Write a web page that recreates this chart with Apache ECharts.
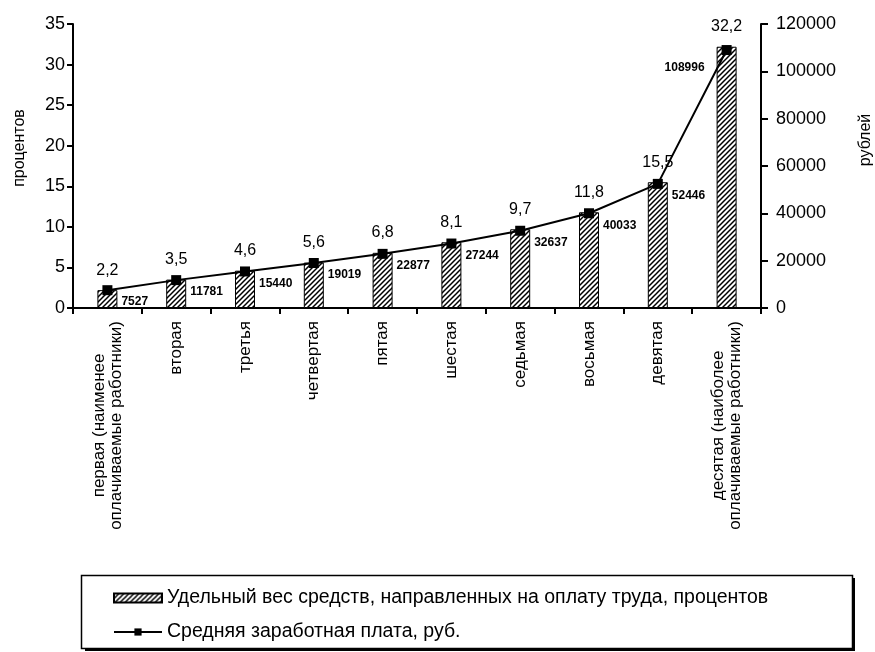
<!DOCTYPE html>
<html>
<head>
<meta charset="utf-8">
<script src="https://cdn.jsdelivr.net/npm/echarts@6/dist/echarts.min.js"></script>
<style>html,body{margin:0;padding:0;background:#fff}#c{width:875px;height:652px}</style>
</head>
<body>
<div id="c"></div>
<script>
const categories = [
  'первая (наименее\nоплачиваемые работники)',
  'вторая', 'третья', 'четвертая', 'пятая', 'шестая', 'седьмая', 'восьмая', 'девятая',
  'десятая (наиболее\nоплачиваемые работники)'
];
const sharePercent = [2.2, 3.5, 4.6, 5.6, 6.8, 8.1, 9.7, 11.8, 15.5, 32.2];
const avgSalary = [7527, 11781, 15440, 19019, 22877, 27244, 32637, 40033, 52446, 108996];
const seriesNames = [
  'Удельный вес средств, направленных на оплату труда, процентов',
  'Средняя заработная плата, руб.'
];
const leftAxisName = 'процентов';
const rightAxisName = 'рублей';

const FONT = 'Liberation Sans, Arial, sans-serif';

// hatch pattern
const pc = document.createElement('canvas');
pc.width = 5; pc.height = 5;
const px = pc.getContext('2d');
px.fillStyle = '#fff'; px.fillRect(0, 0, 5, 5);
px.strokeStyle = '#000'; px.lineWidth = 1.5;
px.beginPath();
px.moveTo(0, 5); px.lineTo(5, 0);
px.moveTo(-1, 1); px.lineTo(1, -1);
px.moveTo(4, 6); px.lineTo(6, 4);
px.stroke();
const hatch = { image: pc, repeat: 'repeat' };

const chart = echarts.init(document.getElementById('c'), null, { renderer: 'canvas' });

const lineData = avgSalary.map((v, i) => {
  const last = i === avgSalary.length - 1;
  return {
    value: v,
    label: last
      ? { position: 'left', offset: [-12, 18] }
      : { position: 'right', offset: [4, 12] }
  };
});

chart.setOption({
  animation: false,
  backgroundColor: '#fff',
  grid: { left: 73, right: 114, top: 24, bottom: 344, containLabel: false },
  legend: {
    orient: 'vertical',
    left: 108,
    top: 583,
    itemWidth: 48,
    itemHeight: 9,
    itemGap: 14,
    textStyle: { fontFamily: FONT, fontSize: 19.5, color: '#000' },
    data: [
      { name: seriesNames[0], icon: 'rect' },
      { name: seriesNames[1] }
    ]
  },
  xAxis: {
    type: 'category',
    data: categories,
    axisLine: { lineStyle: { color: '#000', width: 2 } },
    axisTick: { show: true, length: 6, lineStyle: { color: '#000', width: 2 } },
    axisLabel: {
      rotate: 90, interval: 0, color: '#000', margin: 13,
      formatter: v => v.split('\n').map(s => '{c|' + s + '}').join('\n'),
      rich: { c: { align: 'center', fontFamily: FONT, fontSize: 17, lineHeight: 17, color: '#000' } }
    }
  },
  yAxis: [
    {
      type: 'value', min: 0, max: 35, interval: 5,
      axisLine: { show: true, lineStyle: { color: '#000', width: 2 } },
      axisTick: { show: true, length: 6, lineStyle: { color: '#000', width: 2 } },
      axisLabel: { color: '#000', fontFamily: FONT, fontSize: 18, margin: 8 },
      splitLine: { show: false }
    },
    {
      type: 'value', min: 0, max: 120000, interval: 20000,
      axisLine: { show: true, lineStyle: { color: '#000', width: 2 } },
      axisTick: { show: true, length: 7, lineStyle: { color: '#000', width: 2 } },
      axisLabel: { color: '#000', fontFamily: FONT, fontSize: 18, margin: 15, formatter: v => String(v) },
      splitLine: { show: false }
    }
  ],
  series: [
    {
      name: seriesNames[0],
      type: 'bar',
      yAxisIndex: 0,
      data: sharePercent,
      barWidth: 20,
      itemStyle: { color: hatch, borderColor: '#000', borderWidth: 1 },
      label: {
        show: true, position: 'top', distance: 12, color: '#000',
        fontFamily: FONT, fontSize: 16,
        formatter: p => String(p.value).replace('.', ',')
      },
      z: 2
    },
    {
      name: seriesNames[1],
      type: 'line',
      yAxisIndex: 1,
      data: lineData,
      symbol: 'rect',
      symbolSize: 10,
      lineStyle: { color: '#000', width: 2 },
      itemStyle: { color: '#000' },
      label: {
        show: true, color: '#000', fontFamily: FONT, fontSize: 12, fontWeight: 'bold'
      },
      z: 3
    }
  ],
  graphic: [
    { type: 'rect', shape: { x: 85, y: 578, width: 770, height: 73 }, style: { fill: '#000' }, z: -2 },
    { type: 'rect', shape: { x: 81.5, y: 575.5, width: 771, height: 73 }, style: { fill: '#fff', stroke: '#000', lineWidth: 1.5 }, z: -1 },
    { type: 'text', x: 20, y: 148, rotation: Math.PI / 2,
      style: { text: leftAxisName, font: '16px ' + FONT, fill: '#000', textAlign: 'center', textVerticalAlign: 'middle' } },
    { type: 'text', x: 866, y: 140, rotation: Math.PI / 2,
      style: { text: rightAxisName, font: '16px ' + FONT, fill: '#000', textAlign: 'center', textVerticalAlign: 'middle' } }
  ]
});
</script>
</body>
</html>
